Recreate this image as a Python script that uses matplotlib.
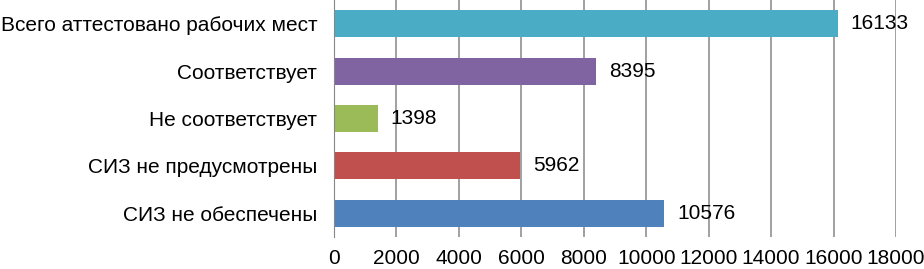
import matplotlib
matplotlib.use("Agg")
import matplotlib.pyplot as plt

categories = ["СИЗ не обеспечены", "СИЗ не предусмотрены", "Не соответствует",
              "Соответствует", "Всего аттестовано рабочих мест"]
values = [10576, 5962, 1398, 8395, 16133]
colors = ["#4F81BD", "#C0504D", "#9BBB59", "#8064A2", "#4BACC6"]
x_ticks = list(range(0, 18001, 2000))

plt.rcParams["font.family"] = ["Liberation Sans", "DejaVu Sans"]

fig = plt.figure(figsize=(9.24, 2.69), dpi=100)
ax = fig.add_axes([334 / 924, 32 / 269, (896 - 334) / 924, 237 / 269])

pos = list(range(len(categories)))
ax.barh(pos, values, height=0.57, color=colors, zorder=3)

for p, v in zip(pos, values):
    ax.text(v + 420, p, str(v), va="center", ha="left", fontsize=15, zorder=4)

ax.set_xlim(0, 18000)
ax.set_ylim(-0.5, 4.5)
ax.set_xticks(x_ticks)
ax.set_xticklabels([str(t) for t in x_ticks], fontsize=15)
ax.set_yticks(pos)
ax.set_yticklabels(categories, fontsize=15)
ax.tick_params(axis="both", length=0)
ax.tick_params(axis="x", pad=9)
ax.tick_params(axis="y", pad=12)

ax.grid(axis="x", color="#868686", linewidth=1.1, zorder=0)
for s in ["top", "right", "bottom"]:
    ax.spines[s].set_visible(False)
ax.spines["left"].set_color("#868686")
ax.spines["left"].set_zorder(5)

fig.savefig("out.png", dpi=100)
